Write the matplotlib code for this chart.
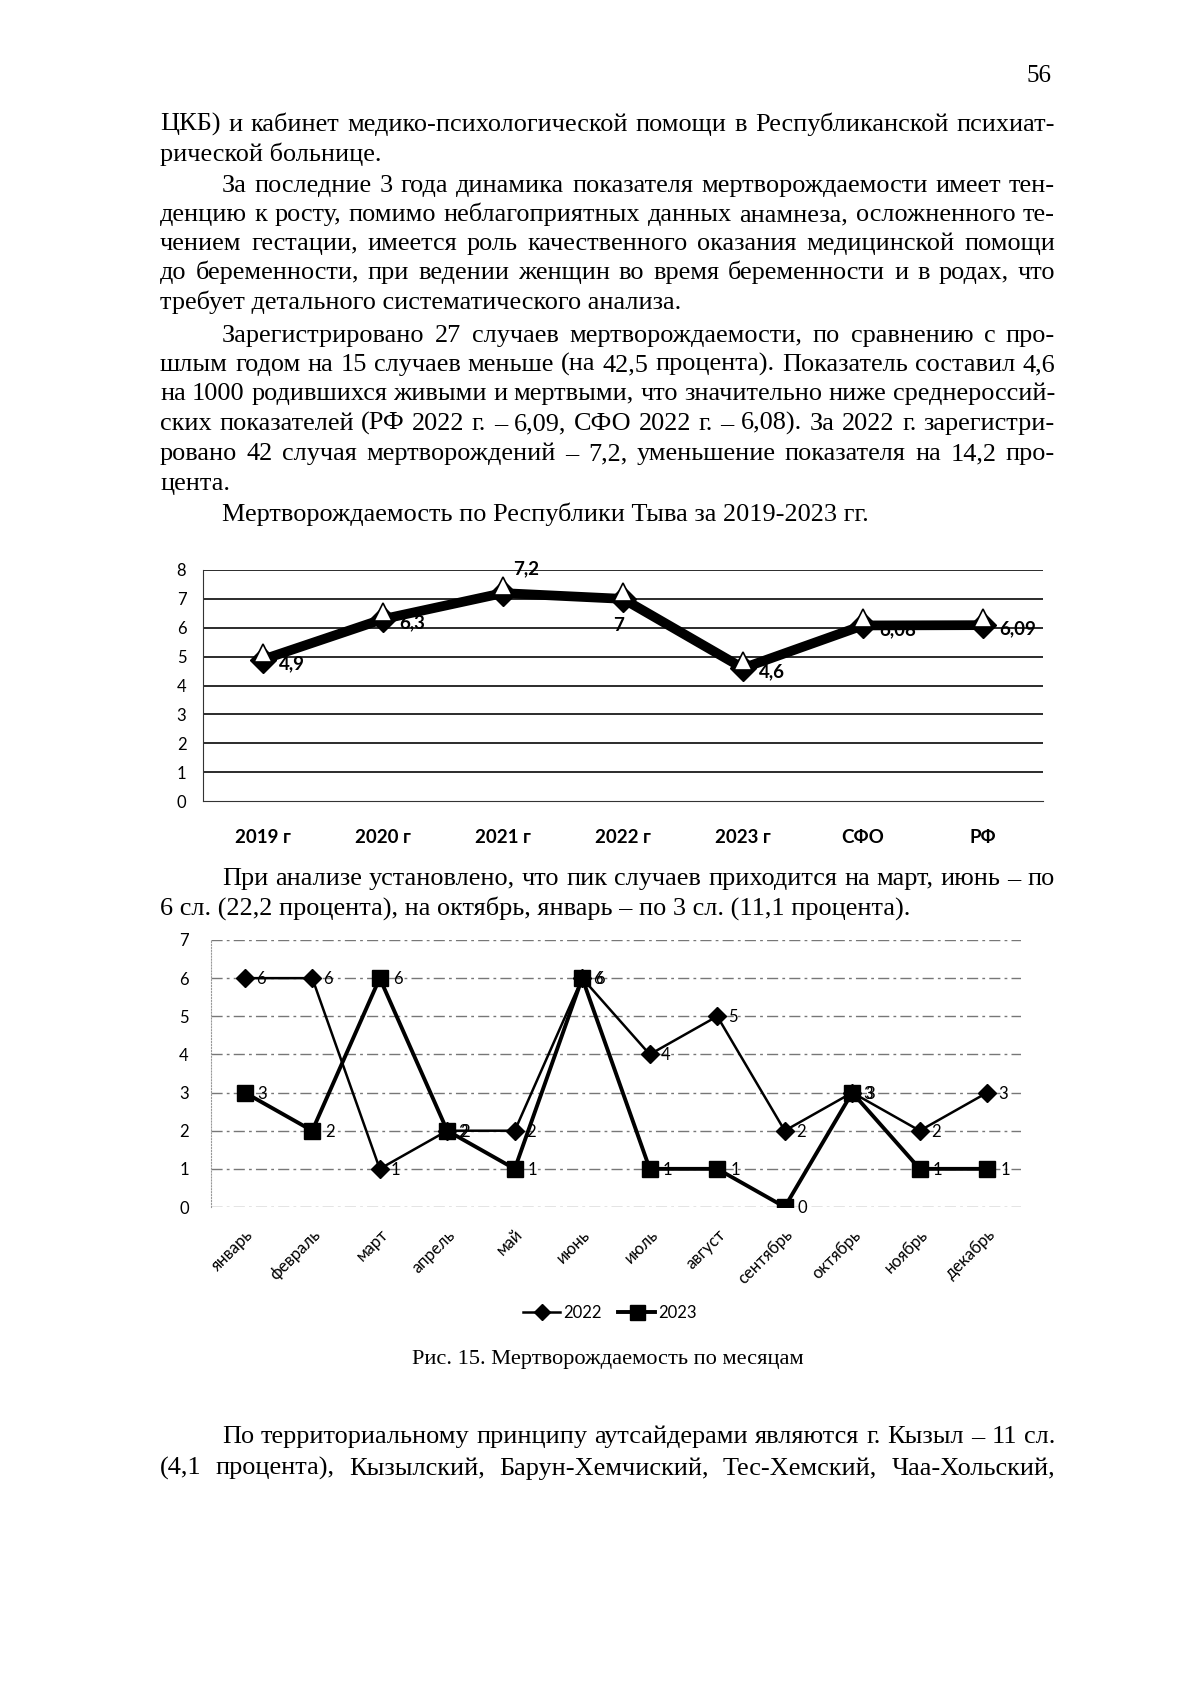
import matplotlib
matplotlib.use("Agg")
import matplotlib.pyplot as plt
from matplotlib.transforms import offset_copy
import numpy as np

W, H = 1200, 1697

# ---- data ----
years = ["2019 г", "2020 г", "2021 г", "2022 г", "2023 г", "СФО", "РФ"]
rate = [4.9, 6.3, 7.2, 7.0, 4.6, 6.08, 6.09]
rate_labels = ["4,9", "6,3", "7,2", "7", "4,6", "6,08", "6,09"]
rate_label_side = ["right", "right", "above", "below", "right", "right", "right"]

months = ["январь", "февраль", "март", "апрель", "май", "июнь", "июль",
          "август", "сентябрь", "октябрь", "ноябрь", "декабрь"]
cases_2022 = [6, 6, 1, 2, 2, 6, 4, 5, 2, 3, 2, 3]
cases_2023 = [3, 2, 6, 2, 1, 6, 1, 1, 0, 3, 1, 1]

# page text: (text, baseline y in px, indented, justified)
top_lines = [
    ("ЦКБ) и кабинет медико-психологической помощи в Республиканской психиат-", 131, False, True),
    ("рической больнице.", 161, False, False),
    ("За последние 3 года динамика показателя мертворождаемости имеет тен-", 192, True, True),
    ("денцию к росту, помимо неблагоприятных данных анамнеза, осложненного те-", 221, False, True),
    ("чением гестации, имеется роль качественного оказания медицинской помощи", 250, False, True),
    ("до беременности, при ведении женщин во время беременности и в родах, что", 279, False, True),
    ("требует детального систематического анализа.", 309, False, False),
    ("Зарегистрировано 27 случаев мертворождаемости, по сравнению с про-", 342, True, True),
    ("шлым годом на 15 случаев меньше (на 42,5 процента). Показатель составил 4,6", 371, False, True),
    ("на 1000 родившихся живыми и мертвыми, что значительно ниже среднероссий-", 400, False, True),
    ("ских показателей (РФ 2022 г. – 6,09, СФО 2022 г. – 6,08). За 2022 г. зарегистри-", 430, False, True),
    ("ровано 42 случая мертворождений – 7,2, уменьшение показателя на 14,2 про-", 460, False, True),
    ("цента.", 490, False, False),
    ("Мертворождаемость по Республики Тыва за 2019-2023 гг.", 521, True, False),
    ("При анализе установлено, что пик случаев приходится на март, июнь – по", 885, True, True),
    ("6 сл. (22,2 процента), на октябрь, январь – по 3 сл. (11,1 процента).", 915, False, False),
    ("По территориальному принципу аутсайдерами являются г. Кызыл – 11 сл.", 1443, True, True),
    ("(4,1 процента), Кызылский, Барун-Хемчиский, Тес-Хемский, Чаа-Хольский,", 1475, False, True),
]
caption = "Рис. 15. Мертворождаемость по месяцам"
page_no = "56"

serif = "Liberation Serif"
sans = "Lato"
LEFT, INDENT, RIGHT = 160, 222, 1055

fig = plt.figure(figsize=(W / 100, H / 100), dpi=100)
fig.patch.set_facecolor("white")
renderer = fig.canvas.get_renderer()


def text_width(s, size):
    t = fig.text(0, 0, s, fontsize=size, family=serif, transform=None)
    w = t.get_window_extent(renderer).width
    t.remove()
    return w


# fit the body font so the (non-justified) chart title spans its width in the scan
probe = text_width("Мертворождаемость по Республики Тыва за 2019-2023 гг.", 10)
body = 10 * 648 / probe


def put_line(s, y, indent, justify):
    x0 = INDENT if indent else LEFT
    yy = H - y
    if not justify:
        fig.text(x0, yy, s, fontsize=body, family=serif, va="baseline", transform=None)
        return
    words = s.split(" ")
    widths = [text_width(w, body) for w in words]
    gap = (RIGHT - x0 - sum(widths)) / (len(words) - 1)
    x = x0
    for w, wd in zip(words, widths):
        fig.text(x, yy, w, fontsize=body, family=serif, va="baseline", transform=None)
        x += wd + gap


for s, y, ind, just in top_lines:
    put_line(s, y, ind, just)

fig.text(1052, H - 82, page_no, fontsize=body * 0.95, family=serif, ha="right",
         va="baseline", transform=None)
fig.text(608, H - 1364, caption, fontsize=body * 0.85, family=serif, ha="center",
         va="baseline", transform=None)

# ---- chart 1 ----
ax1 = fig.add_axes([203 / W, 1 - 801 / H, 840 / W, 231 / H])
x1 = np.arange(len(years))
ax1.set_xlim(-0.5, len(years) - 0.5)
ax1.set_ylim(0, 8)
ax1.set_yticks(range(0, 9))
for v in range(1, 9):
    ax1.axhline(v, color="#1a1a1a", lw=1.3, zorder=1)
ax1.plot(x1, rate, color="black", lw=7, solid_joinstyle="round", zorder=3)
ax1.plot(x1, rate, ls="none", marker="D", ms=13, color="black", zorder=4)
# scanned copy shows a second, hollow triangle marker set a little above each point
tri = offset_copy(ax1.transData, fig=fig, x=0, y=7, units="dots")
ax1.plot(x1, rate, ls="none", marker="^", ms=13, mfc="white", mec="black", mew=1.2,
         transform=tri, zorder=5)
for xi, v, lab, side in zip(x1, rate, rate_labels, rate_label_side):
    if side == "right":
        off, ha, va = (16, -4), "left", "center"
    elif side == "above":
        off, ha, va = (10, 16), "left", "bottom"
    else:
        off, ha, va = (-4, -18), "center", "top"
    ax1.annotate(lab, (xi, v), xytext=off, textcoords="offset pixels", ha=ha, va=va,
                 fontsize=13.5, fontweight="bold", family=sans, zorder=6)
ax1.set_xticks(x1)
ax1.set_xticklabels(years, fontsize=13.5, fontweight="bold", family=sans)
ax1.tick_params(axis="x", length=0, pad=20)
ax1.tick_params(axis="y", length=0, pad=12, labelsize=12)
for lab in ax1.get_yticklabels():
    lab.set_family(sans)
for sp in ["top", "right"]:
    ax1.spines[sp].set_visible(False)
ax1.spines["left"].set_color("#333333")
ax1.spines["bottom"].set_color("#333333")

# ---- chart 2 ----
ax2 = fig.add_axes([211 / W, 1 - 1207 / H, 810 / W, 267 / H])
x2 = np.arange(len(months))
ax2.set_xlim(-0.5, len(months) - 0.5)
ax2.set_ylim(0, 7)
ax2.set_yticks(range(0, 8))
for v in range(0, 8):
    ax2.axhline(v, color="#777777", lw=1.0, ls=(0, (8, 3, 2, 3)), zorder=1)
ax2.plot(x2, cases_2022, color="black", lw=1.8, marker="D", ms=9, label="2022", zorder=3)
ax2.plot(x2, cases_2023, color="black", lw=2.8, marker="s", ms=12, label="2023", zorder=4)
for xi, v in zip(x2, cases_2022):
    ax2.annotate(str(v), (xi, v), xytext=(11, -1), textcoords="offset pixels",
                 ha="left", va="center", fontsize=12, family=sans, zorder=5)
for xi, v in zip(x2, cases_2023):
    ax2.annotate(str(v), (xi, v), xytext=(13, -1), textcoords="offset pixels",
                 ha="left", va="center", fontsize=12, family=sans, zorder=5)
ax2.set_xticks(x2)
ax2.set_xticklabels(months, rotation=45, ha="right", rotation_mode="anchor",
                    fontsize=12, family=sans)
ax2.tick_params(axis="x", length=0, pad=14)
ax2.tick_params(axis="y", length=0, pad=16, labelsize=12)
for lab in ax2.get_yticklabels():
    lab.set_family(sans)
for sp in ["top", "right", "bottom"]:
    ax2.spines[sp].set_visible(False)
ax2.spines["left"].set_color("#999999")
ax2.spines["left"].set_linestyle(":")

fig.legend(loc="center", bbox_to_anchor=(610 / W, 1 - 1313 / H), ncol=2, frameon=False,
           prop={"family": sans, "size": 12}, handlelength=2.2, columnspacing=1.0,
           handletextpad=0.2, markerscale=0.9)

fig.savefig("out.png", dpi=100, facecolor="white")
